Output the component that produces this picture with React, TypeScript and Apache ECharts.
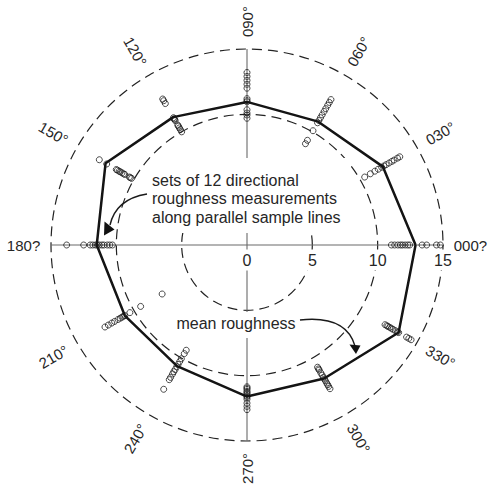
import React, { useEffect, useRef } from "react";
import * as echarts from "echarts";

// Directions (degrees, counter-clockwise from east) and their labels
const directions = [0, 30, 60, 90, 120, 150, 180, 210, 240, 270, 300, 330];
const directionLabels = ["000?", "030°", "060°", "090°", "120°", "150°", "180?", "210°", "240°", "270°", "300°", "330°"];
const radiusTicks = [0, 5, 10, 15];

// Sets of 12 directional roughness measurements (one set per direction)
const rough000 = [11.05, 11.3, 11.55, 11.75, 11.9, 12.1, 12.3, 12.45, 13.4, 13.75, 14.5, 14.8];
const rough030 = [10.4, 10.9, 11.3, 11.6, 11.9, 12.1, 12.3, 12.55, 12.8, 13.0, 13.3, 13.5];
const rough060 = [8.95, 9.25, 10.1, 10.8, 11.0, 11.25, 11.5, 11.8, 12.05, 12.35, 12.6, 12.85];
const rough090 = [9.7, 9.95, 10.1, 10.35, 10.95, 11.05, 11.2, 12.0, 12.3, 12.6, 12.9, 13.2];
const rough120 = [10.0, 10.2, 10.35, 10.5, 10.6, 11.0, 11.1, 11.15, 11.25, 12.5, 12.75, 12.9];
const rough150 = [10.2, 10.3, 10.4, 10.8, 10.9, 11.05, 11.2, 11.3, 11.45, 11.55, 12.4, 13.05];
const rough180 = [10.3, 10.5, 10.7, 10.95, 11.1, 11.3, 11.45, 11.6, 11.8, 12.0, 12.5, 13.8];
const rough210 = [7.5, 9.4, 10.35, 10.8, 10.9, 11.05, 11.2, 11.4, 11.7, 11.95, 12.25, 12.55];
const rough240 = [9.3, 9.6, 10.05, 10.3, 10.55, 10.75, 11.0, 11.2, 11.4, 11.7, 11.9, 12.75];
const rough270 = [10.85, 10.95, 11.05, 11.2, 11.3, 11.4, 11.55, 11.65, 11.8, 12.1, 12.35, 12.6];
const rough300 = [10.8, 10.95, 11.05, 11.3, 11.5, 11.7, 11.85, 12.0, 12.2, 12.35, 12.5, 12.7];
const rough330 = [12.2, 12.35, 12.45, 12.6, 12.75, 12.9, 13.1, 13.3, 13.4, 14.1, 14.3, 14.5];

const measurementSets = [
  rough000, rough030, rough060, rough090, rough120, rough150,
  rough180, rough210, rough240, rough270, rough300, rough330,
];

// Mean roughness per direction
const meanRoughness = [12.9, 12.0, 10.9, 10.95, 11.3, 12.5, 11.5, 10.8, 10.7, 11.6, 11.8, 13.4];

const FONT = '"Liberation Sans", Arial, Helvetica, sans-serif';
const TEXT_COLOR = "#262626";

export default function App() {
  const ref = useRef<HTMLDivElement>(null);

  useEffect(() => {
    if (!ref.current) return;
    const chart = echarts.init(ref.current, null, { renderer: "svg" });
    const rMax = radiusTicks[radiusTicks.length - 1];

    const scatterSeries = directions.map((a, i) => ({
      type: "scatter",
      coordinateSystem: "polar",
      data: measurementSets[i].map((r) => [r, a]),
      symbol: "circle",
      symbolSize: 6,
      itemStyle: { color: "rgba(255,255,255,0)", borderColor: "#1e1e1e", borderWidth: 1 },
      silent: true,
      z: 3,
    }));

    const meanData = directions.map((a, i) => [meanRoughness[i], a]);
    meanData.push([meanRoughness[0], 360]);

    chart.setOption({
      animation: false,
      polar: { center: [247, 245], radius: 196 },
      angleAxis: {
        type: "value",
        min: 0,
        max: 360,
        startAngle: 0,
        clockwise: false,
        axisLine: { show: false },
        axisTick: { show: false },
        axisLabel: { show: false },
        splitLine: { show: false },
      },
      radiusAxis: {
        type: "value",
        min: 0,
        max: rMax,
        interval: 5,
        axisLine: { show: false },
        axisTick: { show: false },
        axisLabel: { show: false },
        splitLine: { show: true, lineStyle: { color: "#222", width: 1.2, type: [10, 6] } },
      },
      series: [
        {
          type: "line",
          coordinateSystem: "polar",
          data: [[rMax, 180], [0, 0], [rMax, 0]],
          symbol: "none",
          lineStyle: { color: "#6a6a6a", width: 1.1 },
          silent: true,
          z: 1,
        },
        {
          type: "line",
          coordinateSystem: "polar",
          data: [[rMax, 90], [0, 0], [rMax, 270]],
          symbol: "none",
          lineStyle: { color: "#6a6a6a", width: 1.1 },
          silent: true,
          z: 1,
        },
        ...scatterSeries,
        {
          type: "line",
          coordinateSystem: "polar",
          data: meanData,
          symbol: "none",
          lineStyle: { color: "#141414", width: 2.5 },
          silent: true,
          z: 4,
        },
      ],
    });

    const toPx = (r: number, a: number): number[] => {
      const p = chart.convertToPixel({ seriesIndex: 0 } as any, [r, a]) as any;
      if (p && p.length === 2) return p;
      const rad = (a * Math.PI) / 180;
      const rr = (r / rMax) * 196;
      return [247 + rr * Math.cos(rad), 245 - rr * Math.sin(rad)];
    };

    const elements: any[] = [];

    // Direction labels, oriented radially
    directions.forEach((a, i) => {
      const p = toPx(17.1, a);
      let rot = a <= 90 ? a : a <= 270 ? a - 180 : a - 360;
      if (a === 0 || a === 180) rot = 0;
      elements.push({
        type: "text",
        x: p[0],
        y: p[1],
        rotation: (rot * Math.PI) / 180,
        z: 20,
        style: {
          text: directionLabels[i],
          x: 0,
          y: 0,
          align: "center",
          verticalAlign: "middle",
          font: `15px ${FONT}`,
          fill: TEXT_COLOR,
        },
      });
    });

    // Radius labels
    radiusTicks.forEach((t) => {
      const p = toPx(t, 0);
      elements.push({
        type: "text",
        x: p[0],
        y: p[1] + 15,
        z: 20,
        style: {
          text: String(t),
          align: "center",
          verticalAlign: "middle",
          font: `16px ${FONT}`,
          fill: TEXT_COLOR,
          backgroundColor: "#ffffff",
          padding: [2, 2, 3, 2],
        },
      });
    });

    // Annotation 1
    elements.push({
      type: "rect",
      shape: { x: 150, y: 158, width: 198, height: 75 },
      style: { fill: "#ffffff" },
      z: 10,
      silent: true,
    });
    elements.push({
      type: "text",
      x: 152,
      y: 198.5,
      z: 20,
      style: {
        text: "sets of 12 directional\nroughness measurements\nalong parallel sample lines",
        align: "left",
        verticalAlign: "middle",
        lineHeight: 18.5,
        font: `16px ${FONT}`,
        fill: TEXT_COLOR,
      },
    });
    elements.push({
      type: "bezierCurve",
      shape: { x1: 147, y1: 194, cpx1: 116, cpy1: 199, x2: 110, y2: 225 },
      style: { stroke: "#1a1a1a", lineWidth: 1.4, fill: "none" },
      z: 20,
    });
    elements.push({
      type: "polygon",
      shape: { points: [[104.5, 221.5], [114.5, 229.5], [104, 235.5]] },
      style: { fill: "#111" },
      z: 20,
    });

    // Annotation 2
    elements.push({
      type: "rect",
      shape: { x: 172, y: 312, width: 130, height: 26 },
      style: { fill: "#ffffff" },
      z: 10,
      silent: true,
    });
    elements.push({
      type: "text",
      x: 236,
      y: 323,
      z: 20,
      style: {
        text: "mean roughness",
        align: "center",
        verticalAlign: "middle",
        font: `16px ${FONT}`,
        fill: TEXT_COLOR,
      },
    });
    elements.push({
      type: "bezierCurve",
      shape: { x1: 300, y1: 320, cpx1: 346, cpy1: 315, x2: 355, y2: 346 },
      style: { stroke: "#1a1a1a", lineWidth: 1.4, fill: "none" },
      z: 20,
    });
    elements.push({
      type: "polygon",
      shape: { points: [[349.5, 344.5], [360.5, 345.5], [356, 354]] },
      style: { fill: "#111" },
      z: 20,
    });

    chart.setOption({ graphic: { elements } });

    return () => chart.dispose();
  }, []);

  return (
    <div
      ref={ref}
      style={{ position: "absolute", left: 0, top: 0, width: 494, height: 485, background: "#fff" }}
    />
  );
}
